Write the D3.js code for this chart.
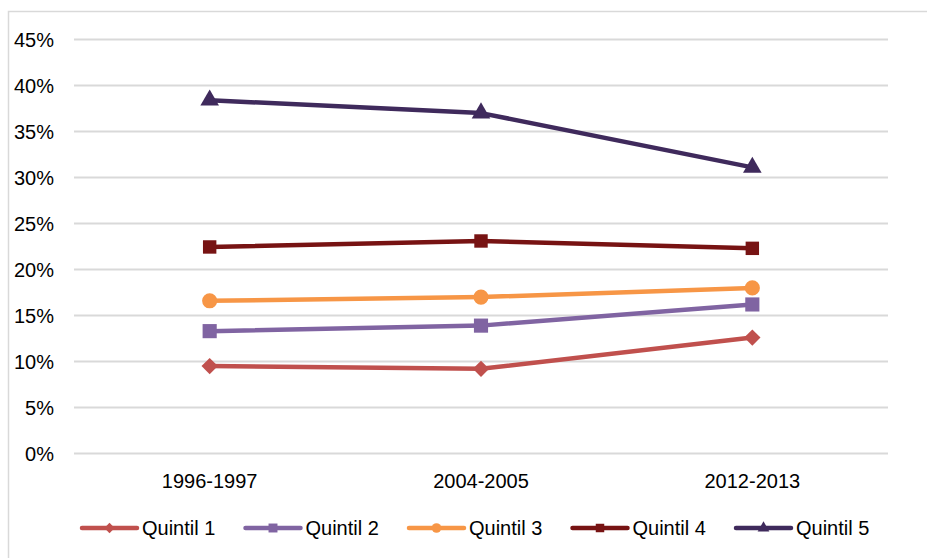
<!DOCTYPE html>
<html>
<head>
<meta charset="utf-8">
<script src="https://cdn.jsdelivr.net/npm/d3@7"></script>
<style>
  body { margin: 0; background: #fff; }
  text { font-family: "Liberation Sans", Arial, sans-serif; fill: #000; }
</style>
</head>
<body>
<div id="chart"></div>
<script>
const periods = ["1996-1997", "2004-2005", "2012-2013"];
const seriesNames = ["Quintil 1", "Quintil 2", "Quintil 3", "Quintil 4", "Quintil 5"];
const quintil1 = [9.5, 9.2, 12.6];
const quintil2 = [13.3, 13.9, 16.2];
const quintil3 = [16.6, 17.0, 18.0];
const quintil4 = [22.45, 23.1, 22.3];
const quintil5 = [38.4, 37.0, 31.1];
const yTicks = [0, 5, 10, 15, 20, 25, 30, 35, 40, 45];

const colors = ["#C0504D", "#8064A2", "#F79646", "#771313", "#3F2A5C"];
const shapes = [d3.symbolDiamond2, d3.symbolSquare, d3.symbolCircle, d3.symbolSquare, d3.symbolTriangle];
const shapeSizes = [170, 200, 180, 180, 150];

const allSeries = [quintil1, quintil2, quintil3, quintil4, quintil5];

const width = 927, height = 558;

const svg = d3.select("#chart")
    .append("svg")
    .attr("width", width)
    .attr("height", height);

// outer frame
svg.append("rect")
    .attr("x", 8.5)
    .attr("y", 11.5)
    .attr("width", width)
    .attr("height", height)
    .attr("fill", "none")
    .attr("stroke", "#d9d9d9")
    .attr("stroke-width", 1.5);

const x = d3.scalePoint()
    .domain(periods)
    .range([74, 888])
    .padding(0.5);

const y = d3.scaleLinear()
    .domain([0, 45])
    .range([453.5, 39.5]);

// gridlines
svg.append("g")
    .selectAll("line")
    .data(yTicks)
    .enter()
    .append("line")
    .attr("x1", 74)
    .attr("x2", 888)
    .attr("y1", d => y(d))
    .attr("y2", d => y(d))
    .attr("stroke", "#d9d9d9")
    .attr("stroke-width", 2);

// y labels
svg.append("g")
    .selectAll("text")
    .data(yTicks)
    .enter()
    .append("text")
    .attr("x", 54)
    .attr("y", d => y(d))
    .attr("dy", "0.35em")
    .attr("text-anchor", "end")
    .style("font-size", "20px")
    .text(d => d + "%");

// x labels
svg.append("g")
    .selectAll("text")
    .data(periods)
    .enter()
    .append("text")
    .attr("x", d => x(d))
    .attr("y", 481)
    .attr("dy", "0.35em")
    .attr("text-anchor", "middle")
    .style("font-size", "20px")
    .text(d => d);

const line = d3.line()
    .x((d, i) => x(periods[i]))
    .y(d => y(d));

allSeries.forEach((vals, s) => {
    svg.append("path")
        .datum(vals)
        .attr("d", line)
        .attr("fill", "none")
        .attr("stroke", colors[s])
        .attr("stroke-width", 4.5)
        .attr("stroke-linejoin", "round")
        .attr("stroke-linecap", "round");

    svg.append("g")
        .selectAll("path")
        .data(vals)
        .enter()
        .append("path")
        .attr("transform", (d, i) => `translate(${x(periods[i])},${y(d)})`)
        .attr("d", d3.symbol().type(shapes[s]).size(shapeSizes[s]))
        .attr("fill", colors[s]);
});

// legend
const legend = svg.selectAll(".legend")
    .data(seriesNames)
    .enter()
    .append("g")
    .attr("class", "legend")
    .attr("transform", (d, i) => `translate(${82 + i * 163.5}, 528)`);

legend.append("line")
    .attr("x1", 0)
    .attr("x2", 55)
    .attr("stroke", (d, i) => colors[i])
    .attr("stroke-width", 4.5)
    .attr("stroke-linecap", "round");

legend.append("path")
    .attr("transform", "translate(27.5,0)")
    .attr("d", (d, i) => d3.symbol().type(shapes[i]).size(shapeSizes[i] * 0.4)())
    .attr("fill", (d, i) => colors[i]);

legend.append("text")
    .attr("x", 60)
    .attr("y", 0)
    .attr("dy", "0.35em")
    .style("font-size", "20px")
    .text(d => d);
</script>
</body>
</html>
